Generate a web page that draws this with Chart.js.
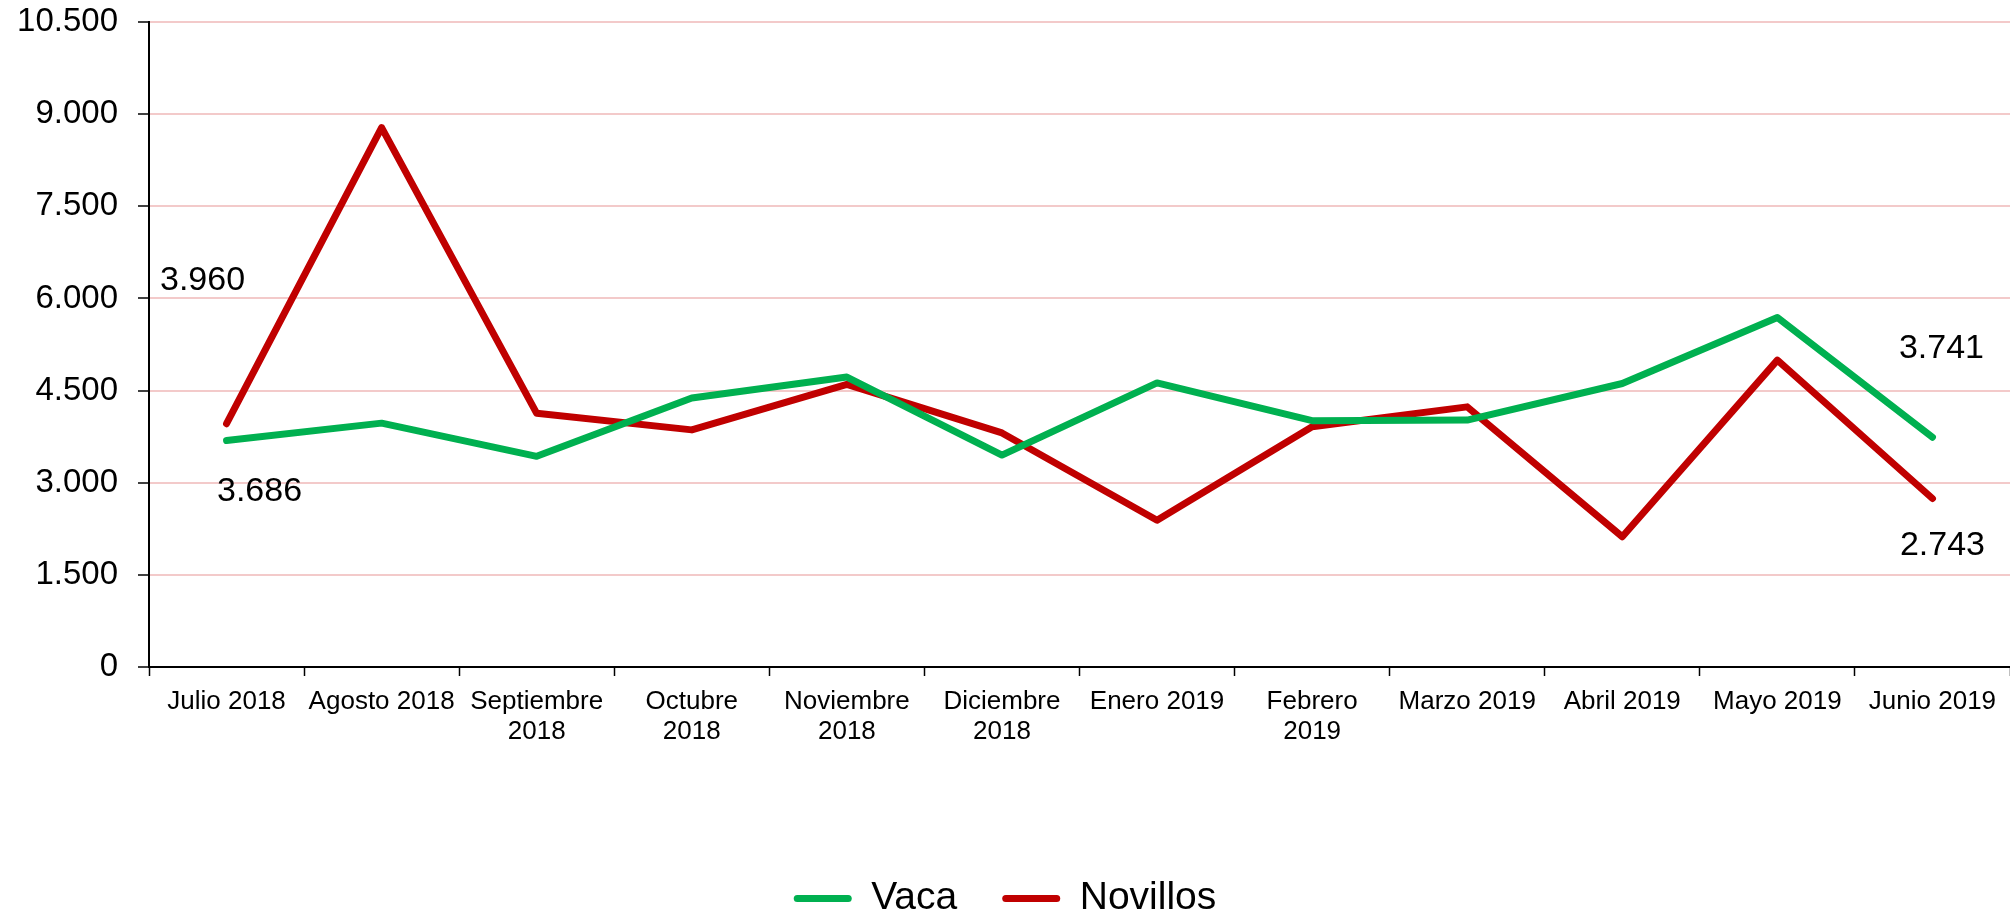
<!DOCTYPE html>
<html>
<head>
<meta charset="utf-8">
<script src="https://cdn.jsdelivr.net/npm/chart.js@4.4.1/dist/chart.umd.min.js"></script>
<style>
    html, body { margin: 0; padding: 0; background: #ffffff; }
    #wrap { width: 2010px; height: 913px; }
</style>
</head>
<body>
<div id="wrap"><canvas id="myChart" width="2010" height="913"></canvas></div>
<script>
// chart data
const months = [
    'Julio 2018', 'Agosto 2018', ['Septiembre', '2018'], ['Octubre', '2018'],
    ['Noviembre', '2018'], ['Diciembre', '2018'], 'Enero 2019', ['Febrero', '2019'],
    'Marzo 2019', 'Abril 2019', 'Mayo 2019', 'Junio 2019'
];
const vaca = [3686, 3970, 3430, 4380, 4720, 3450, 4625, 4010, 4020, 4615, 5690, 3741];
const novillos = [3960, 8780, 4130, 3860, 4600, 3810, 2390, 3910, 4235, 2120, 4995, 2743];
const yTicks = [0, 1500, 3000, 4500, 6000, 7500, 9000, 10500];

const green = '#00B050';
const red = '#C00000';
const fontFamily = '"Liberation Sans", Arial, sans-serif';

function formatNumber(v) {
    return String(v).replace(/\B(?=(\d{3})+(?!\d))/g, '.'); // spanish thousands separator
}

// which points carry a value label, and where the text sits relative to the point
const labelledPoints = [
    { dataset: 1, index: 0, dx: -24, dy: -143 },
    { dataset: 0, index: 0, dx: 33, dy: 51 },
    { dataset: 0, index: 11, dx: 9, dy: -89 },
    { dataset: 1, index: 11, dx: 10, dy: 47 }
];

const valueLabels = {
    id: 'valueLabels',
    afterDatasetsDraw(chart) {
        const ctx = chart.ctx;
        ctx.save();
        ctx.font = '34px ' + fontFamily;
        ctx.fillStyle = '#000000';
        ctx.textAlign = 'center';
        ctx.textBaseline = 'middle';
        labelledPoints.forEach(p => {
            const point = chart.getDatasetMeta(p.dataset).data[p.index];
            const value = chart.data.datasets[p.dataset].data[p.index];
            ctx.fillText(formatNumber(value), point.x + p.dx, point.y + p.dy);
        });
        ctx.restore();
    }
};

const ctx = document.getElementById('myChart').getContext('2d');
const myLineChart = new Chart(ctx, {
    type: 'line',
    data: {
        labels: months,
        datasets: [
            {
                label: 'Vaca',
                data: vaca,
                borderColor: green,
                backgroundColor: green,
                borderWidth: 7,
                borderCapStyle: 'round',
                borderJoinStyle: 'round',
                pointRadius: 0,
                fill: false,
                tension: 0
            },
            {
                label: 'Novillos',
                data: novillos,
                borderColor: red,
                backgroundColor: red,
                borderWidth: 7,
                borderCapStyle: 'round',
                borderJoinStyle: 'round',
                pointRadius: 0,
                fill: false,
                tension: 0
            }
        ]
    },
    options: {
        responsive: false,
        animation: false,
        devicePixelRatio: 1,
        layout: {
            padding: { top: 22, right: 0, bottom: -15, left: 0 }
        },
        plugins: {
            title: { display: false },
            tooltip: { enabled: false },
            legend: {
                display: true,
                position: 'bottom',
                labels: {
                    color: '#000000',
                    font: { family: fontFamily, size: 39 },
                    boxWidth: 58,
                    boxHeight: 7,
                    padding: 45,
                    useBorderRadius: true,
                    borderRadius: 3.5,
                    generateLabels(chart) {
                        const items = Chart.defaults.plugins.legend.labels.generateLabels(chart);
                        items.forEach(item => { item.lineWidth = 0; });
                        return items;
                    }
                }
            }
        },
        scales: {
            x: {
                offset: true,
                grid: {
                    display: true,
                    drawOnChartArea: false,
                    drawTicks: true,
                    tickLength: 9,
                    tickColor: '#000000',
                    tickWidth: 1.5,
                    offset: true
                },
                border: { display: true, color: '#000000', width: 2 },
                ticks: {
                    color: '#000000',
                    font: { family: fontFamily, size: 26, lineHeight: 1.15 },
                    maxRotation: 0,
                    minRotation: 0,
                    autoSkip: false,
                    padding: 11
                },
                afterFit(scale) {
                    scale.height = 167;
                }
            },
            y: {
                min: 0,
                max: 10500,
                afterBuildTicks(scale) {
                    scale.ticks = yTicks.map(v => ({ value: v }));
                },
                grid: {
                    color: '#F3CACA',
                    lineWidth: 2,
                    drawTicks: true,
                    tickLength: 11,
                    tickColor: '#000000',
                    tickWidth: 1.5
                },
                border: { display: true, color: '#000000', width: 2 },
                ticks: {
                    color: '#000000',
                    font: { family: fontFamily, size: 33 },
                    padding: 20,
                    callback: function(value) {
                        return formatNumber(value);
                    }
                },
                afterFit(scale) {
                    scale.width = 149;
                    // let the top tick label overhang the layout padding
                    scale.paddingTop = 0;
                    scale.paddingBottom = 0;
                }
            }
        }
    },
    plugins: [valueLabels]
});
</script>
</body>
</html>
